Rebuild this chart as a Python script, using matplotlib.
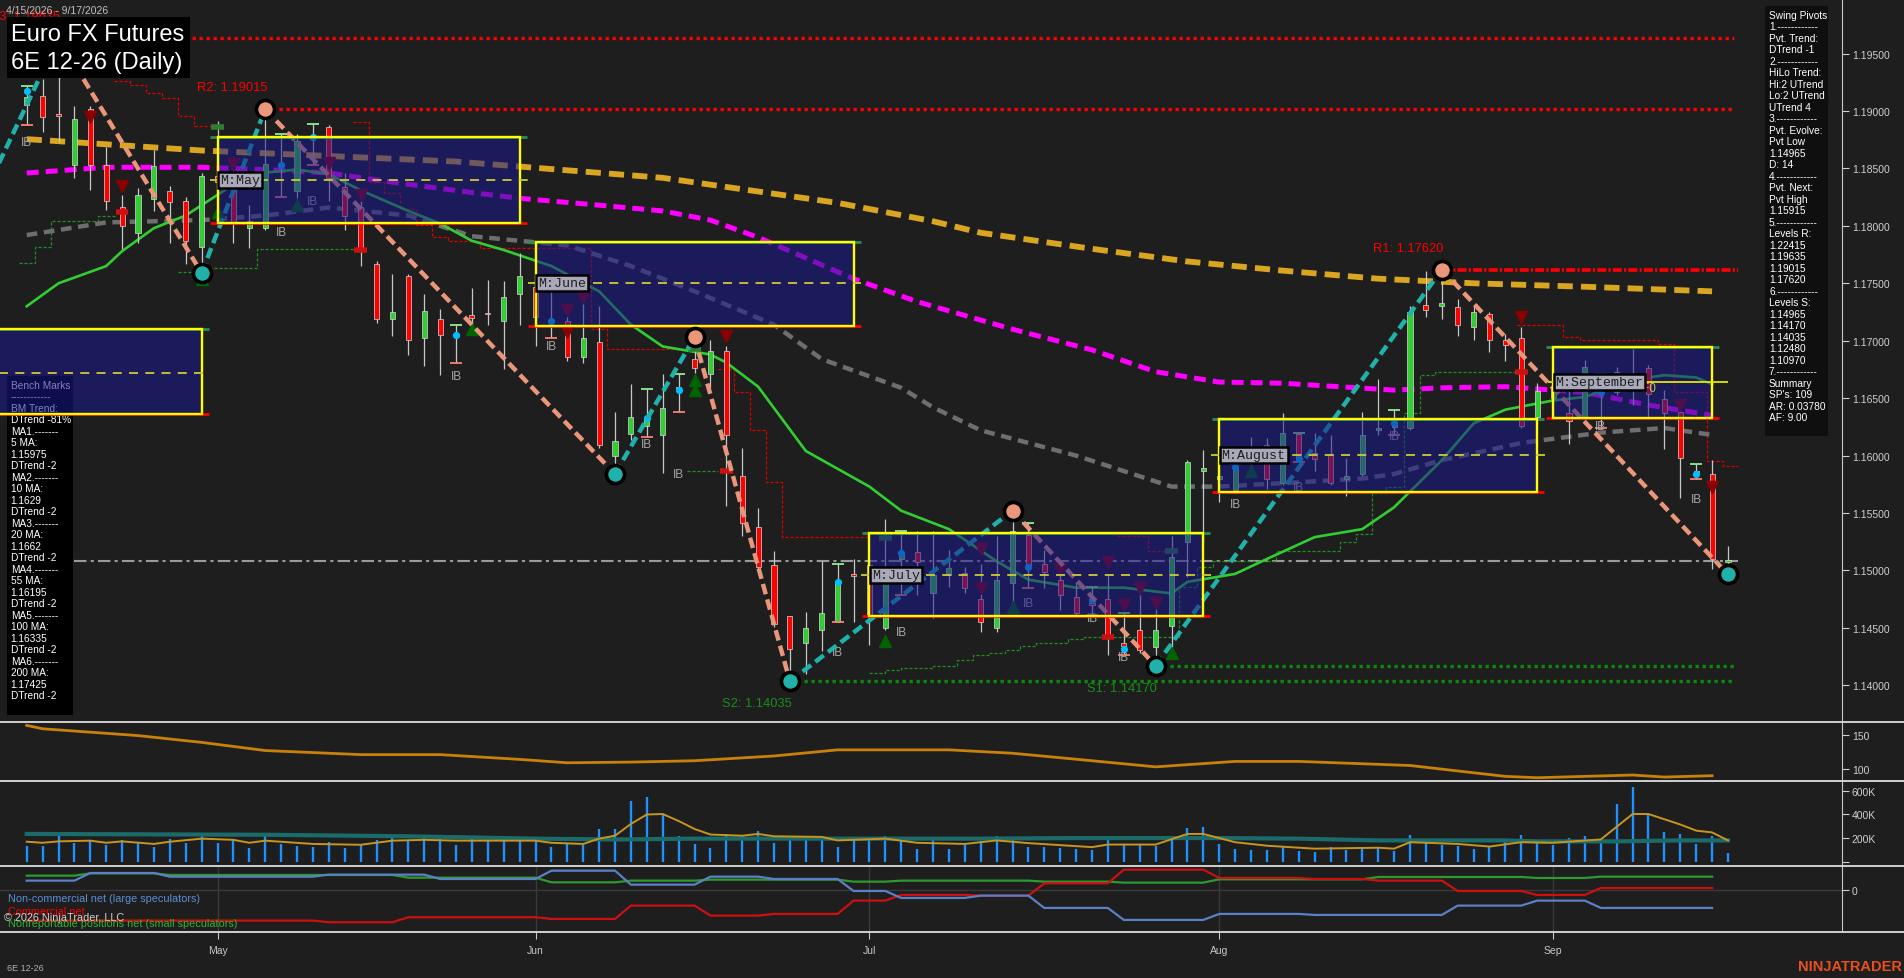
import numpy as np
import pandas as pd
import matplotlib
matplotlib.use("Agg")
import matplotlib.pyplot as plt
from matplotlib.patches import Rectangle
from matplotlib.lines import Line2D

plt.rcParams['font.family'] = ['Liberation Sans', 'DejaVu Sans']

BG = '#1e1e1e'
W, H = 1904, 979
nan = np.nan

# daily bars, exchange holidays have no bar
dates = pd.bdate_range("2026-04-15", "2026-09-17")
dates = dates.drop(pd.to_datetime(["2026-05-25", "2026-06-19", "2026-07-03", "2026-09-07"]))
x = np.arange(len(dates))

opens = [1.1905, 1.1913, 1.1897, 1.1853, 1.1902, 1.1853, 1.1816, 1.1794, 1.1823, 1.1830,
         1.1822, 1.1782, 1.1843, 1.1833, 1.1798, 1.1798, 1.1852, 1.1830, 1.1876, 1.1886,
         1.1834, 1.1816, 1.1767, 1.1719, 1.1756, 1.1702, 1.1719, 1.1705, 1.1722, 1.1724,
         1.1717, 1.1741, 1.1747, 1.1718, 1.1717, 1.1686, 1.1699, 1.1600, 1.1619, 1.1626,
         1.1618, 1.1660, 1.1684, 1.1671, 1.1691, 1.1582, 1.1538, 1.1505, 1.1460, 1.1437,
         1.1448, 1.1455, 1.1497, 1.1505, 1.1450, 1.1510, 1.1516, 1.1480, 1.1496, 1.1498,
         1.1475, 1.1450, 1.1489, 1.1531, 1.1506, 1.1492, 1.1477, 1.1472, 1.1475, 1.1437,
         1.1448, 1.1433, 1.1452, 1.1525, 1.1587, 1.1580, 1.1570, 1.1597, 1.1609, 1.1576,
         1.1619, 1.1602, 1.1601, 1.1580, 1.1584, 1.1622, 1.1625, 1.1624, 1.1731, 1.1730,
         1.1729, 1.1712, 1.1723, 1.1701, 1.1702, 1.1634, 1.1650, 1.1637, 1.1633, 1.1654,
         1.1655, 1.1665, 1.1676, 1.1649, 1.1638, 1.1587, 1.1584, 1.1507]
highs = [1.1922, 1.1928, 1.19635, 1.1904, 1.1904, 1.1869, 1.1827, 1.1833, 1.1866, 1.1835,
         1.1825, 1.1846, 1.1891, 1.1853, 1.1818, 1.19015, 1.1880, 1.1880, 1.1889, 1.1888,
         1.1846, 1.1831, 1.1769, 1.1758, 1.1758, 1.1741, 1.1728, 1.1714, 1.1746, 1.1753,
         1.1752, 1.1776, 1.1752, 1.1745, 1.1721, 1.1732, 1.1730, 1.1638, 1.1662, 1.1658,
         1.1671, 1.1671, 1.1703, 1.1701, 1.1695, 1.1607, 1.1554, 1.1517, 1.1460, 1.1464,
         1.1508, 1.1506, 1.1510, 1.1508, 1.1545, 1.1534, 1.1534, 1.1534, 1.1518, 1.1503,
         1.1506, 1.1530, 1.1552, 1.1541, 1.1518, 1.1505, 1.1490, 1.1486, 1.1497, 1.1463,
         1.1479, 1.1475, 1.1530, 1.1596, 1.1605, 1.1590, 1.1593, 1.1616, 1.1615, 1.1637,
         1.1620, 1.1620, 1.1618, 1.1598, 1.1638, 1.1667, 1.1640, 1.1730, 1.1761, 1.1762,
         1.1736, 1.1730, 1.1725, 1.1706, 1.1712, 1.1663, 1.1662, 1.1664, 1.1683, 1.1671,
         1.1677, 1.1693, 1.1679, 1.1657, 1.1644, 1.1593, 1.1596, 1.1521]
lows = [1.1888, 1.1882, 1.1873, 1.1842, 1.1831, 1.1814, 1.1780, 1.1785, 1.1813, 1.1785,
        1.1767, 1.1759, 1.1808, 1.1785, 1.1781, 1.1796, 1.1825, 1.1824, 1.1853, 1.1822,
        1.1796, 1.1765, 1.1715, 1.1704, 1.1688, 1.1678, 1.1670, 1.1681, 1.1710, 1.1714,
        1.1675, 1.1714, 1.1695, 1.1702, 1.1682, 1.1681, 1.1607, 1.1584, 1.1614, 1.1616,
        1.1585, 1.1638, 1.1672, 1.1659, 1.1556, 1.1530, 1.1501, 1.1451, 1.14035, 1.1410,
        1.1430, 1.1455, 1.1455, 1.1435, 1.1448, 1.1479, 1.1479, 1.1459, 1.1486, 1.1480,
        1.1446, 1.1446, 1.1472, 1.1485, 1.1485, 1.1466, 1.1461, 1.1461, 1.1426, 1.1426,
        1.1428, 1.1417, 1.1433, 1.1494, 1.1525, 1.1560, 1.1567, 1.1585, 1.1571, 1.1574,
        1.1594, 1.1587, 1.1574, 1.1565, 1.1582, 1.1618, 1.1618, 1.1622, 1.1721, 1.1719,
        1.1704, 1.1701, 1.1690, 1.1682, 1.1624, 1.1632, 1.1634, 1.1610, 1.1633, 1.1624,
        1.1653, 1.1644, 1.1633, 1.1606, 1.1563, 1.1580, 1.1501, 1.14965]
closes = [1.1912, 1.1895, 1.1896, 1.1893, 1.1853, 1.1822, 1.1800, 1.1827, 1.1852, 1.1821,
          1.1787, 1.1843, 1.1838, 1.1802, 1.1804, 1.1854, 1.1854, 1.1874, 1.1877, 1.1842,
          1.1809, 1.1779, 1.1719, 1.1725, 1.1701, 1.1726, 1.1705, 1.1706, 1.1720, 1.1723,
          1.1738, 1.1756, 1.1721, 1.1717, 1.1686, 1.1702, 1.1609, 1.1613, 1.1634, 1.1633,
          1.1641, 1.1657, 1.1676, 1.1691, 1.1618, 1.1541, 1.1503, 1.1453, 1.1432, 1.1450,
          1.1463, 1.1490, 1.1495, 1.1461, 1.1494, 1.1515, 1.1507, 1.1496, 1.1502, 1.1485,
          1.1455, 1.1492, 1.1534, 1.1505, 1.1499, 1.1479, 1.1463, 1.1470, 1.1442, 1.1434,
          1.1431, 1.1448, 1.1512, 1.1594, 1.1589, 1.1582, 1.1590, 1.1600, 1.1580, 1.1620,
          1.1597, 1.1597, 1.1576, 1.1582, 1.1618, 1.1624, 1.1628, 1.1725, 1.1727, 1.1733,
          1.1714, 1.1725, 1.1701, 1.1696, 1.1626, 1.1656, 1.1658, 1.1630, 1.1677, 1.1656,
          1.1673, 1.1668, 1.1654, 1.1637, 1.1598, 1.1585, 1.1510, 1.1509]

# moving averages (bar index, value)
ma200_bars = [0, 11, 27, 40, 51, 57, 60, 67, 73, 79, 85, 91, 98, 106]
ma200_vals = [1.18755, 1.18656, 1.1856, 1.18418, 1.1820, 1.1804, 1.1794, 1.1780, 1.1769, 1.1761,
              1.1754, 1.1750, 1.1747, 1.1743]
ma100_bars = [0, 5, 11, 15, 19, 23, 28, 31, 36, 40, 43, 46, 49, 52, 56, 62, 67, 71, 75, 79,
              86, 89, 93, 98, 102, 106]
ma100_vals = [1.1846, 1.1851, 1.1851, 1.1849, 1.1846, 1.1838, 1.1829, 1.1824, 1.1818, 1.1813,
              1.1805, 1.1790, 1.1772, 1.1754, 1.1734, 1.1710, 1.1692, 1.1673, 1.1664, 1.1663,
              1.1657, 1.1659, 1.1660, 1.1655, 1.1644, 1.1635]
ma55_bars = [0, 5, 11, 15, 19, 24, 28, 34, 38, 42, 47, 50, 55, 57, 60, 66, 70, 72, 75, 79,
             84, 86, 89, 94, 99, 103, 106]
ma55_vals = [1.1792, 1.1803, 1.1805, 1.1809, 1.1816, 1.1809, 1.1791, 1.1783, 1.1765, 1.1743,
             1.1714, 1.1684, 1.1659, 1.1642, 1.1622, 1.1600, 1.1582, 1.1573, 1.1573, 1.1576,
             1.1580, 1.1584, 1.1596, 1.1611, 1.1620, 1.1624, 1.1618]
ma20_bars = [0, 2, 5, 6, 8, 10, 12, 14, 17, 19, 21, 24, 26, 28, 30, 33, 36, 38, 40, 43,
             44, 46, 49, 53, 55, 58, 61, 63, 66, 69, 72, 73, 76, 78, 81, 84, 86, 89, 91, 93,
             96, 98, 101, 103, 105, 106]
ma20_vals = [1.1730, 1.1750, 1.1765, 1.1778, 1.1798, 1.1809, 1.1827, 1.1845, 1.1849, 1.1845,
             1.1831, 1.1813, 1.1802, 1.1787, 1.1779, 1.1765, 1.1743, 1.1714, 1.1695, 1.1688,
             1.1681, 1.1660, 1.1604, 1.1573, 1.1552, 1.1536, 1.1508, 1.1492, 1.1485, 1.1485,
             1.1480, 1.1490, 1.1497, 1.1510, 1.1529, 1.1536, 1.1555, 1.1596, 1.1628, 1.1640,
             1.1648, 1.1651, 1.1666, 1.1670, 1.1668, 1.1662]

# swing pivots
swing_bars = [-6, 2, 11, 15, 37, 42, 48, 62, 71, 89, 107]
swing_prices = [1.1731, 1.19635, 1.1759, 1.19015, 1.1584, 1.1703, 1.14035, 1.1552, 1.1417, 1.1762, 1.14965]

level_names = ['R3', 'R2', 'R1', 'S2', 'S1']
level_prices = [1.19635, 1.19015, 1.17620, 1.14035, 1.14170]
level_from = [2, 15, 89, 48, 71]

# monthly boxes
box_start = [-3, 12, 32, 53, 75, 96]
box_end = [11, 31, 52, 74, 95, 106]
box_top = [1.1710, 1.18773, 1.1786, 1.15322, 1.16318, 1.16945]
box_bottom = [1.1636, 1.18026, 1.1713, 1.14600, 1.15685, 1.16329]
box_mid = [1.1672, 1.18401, 1.1750, 1.14963, 1.16007, 1.16641]
box_label = ['', 'M:May', 'M:June', 'M:July', 'M:August', 'M:September']

# trailing stops
red_step_x = [5.5, 6.5, 7.5, 8.5, 9.5, 10.5, 11.6, nan,
              20.5, 21.5, 22.5, 23.5, 24.5, 25.5, 26.5, 28.5, 35.5, 36.5, 42, nan,
              43.5, 44.5, 45.5, 46.5, 47.5, 53, nan,
              67.5, 68.5, 70.5, 71.7, nan,
              93.7, 96.6, 97.7, 102.6, 103.6, 105.7, 106.7, 107.6]
red_step_y = [1.1926, 1.1923, 1.1916, 1.1911, 1.1896, 1.1887, 1.1887, nan,
              1.1890, 1.1838, 1.1829, 1.1815, 1.1801, 1.1790, 1.1787, 1.1781, 1.1710, 1.1693, 1.1693, nan,
              1.1675, 1.1655, 1.1622, 1.1577, 1.1529, 1.1529, nan,
              1.1533, 1.1530, 1.1517, 1.1517, nan,
              1.1714, 1.1703, 1.1701, 1.1697, 1.1655, 1.1595, 1.1591, 1.1591]
green_step_x = [-0.5, 0.5, 1.5, 4.5, 5.7, nan, 9.5, 11.5, 14.5, 20.6, nan, 41.5, 43.5, nan,
                53, 54, 55, 57, 58.5, 59.5, 60.5, 61.5, 62.5, 63.5, 65.5, 66.5, 72.5, 73.6,
                74.6, 78.6, 82.6, 83.6, 84.6, 85.5, 86.6, 87.6, 88.6, 93.7]
green_step_y = [1.1768, 1.1782, 1.1804, 1.1809, 1.1809, nan, 1.1760, 1.1763, 1.1780, 1.1780, nan,
                1.1587, 1.1587, nan,
                1.1411, 1.1413, 1.1415, 1.1417, 1.1422, 1.1426, 1.1428, 1.1431, 1.1434, 1.1437,
                1.1440, 1.1442, 1.1486, 1.1503, 1.1508, 1.1517, 1.1525, 1.1532, 1.1567, 1.1573,
                1.1637, 1.1670, 1.1673, 1.1673]

# inside-bar marks
ib_bars = [0, 16, 18, 27, 33, 39, 41, 51, 55, 63, 67, 69, 76, 80, 86, 99, 105]
ib_dots = [1.1917, 1.1853, 1.1877, 1.1705, 1.1717, 1.1633, 1.1657, 1.1490, 1.1515, 1.1503,
           1.1474, 1.1432, 1.1590, 1.1597, 1.1628, 1.1655, 1.1584]
ib_text_prices = [1.1873, 1.1795, 1.1822, 1.1669, 1.1695, 1.1610, 1.1584, 1.1429, 1.1446, 1.1472,
                  1.1459, 1.1425, 1.1558, 1.1573, 1.1617, 1.1626, 1.1562]

down_tri_bars = [4, 6, 13, 19, 21, 34, 34, 35, 44, 60, 60, 65, 68, 69, 70, 71, 94, 104, 106]
down_tri_prices = [1.1895, 1.1835, 1.1854, 1.1855, 1.1827, 1.1727, 1.1708, 1.1738, 1.1704, 1.1519,
                   1.1485, 1.1501, 1.1507, 1.1470, 1.1485, 1.1472, 1.1721, 1.1644, 1.1573]
up_tri_bars = [11, 12, 17, 28, 42, 42, 54, 62, 72, 77]
up_tri_prices = [1.1754, 1.1812, 1.1818, 1.1710, 1.1666, 1.1657, 1.1439, 1.1468, 1.1428, 1.1587]
red_mark_bars = [6, 21, 44, 68, 94]
red_mark_prices = [1.1812, 1.1779, 1.1587, 1.1442, 1.1673]
green_mark_bars = [12, 42, 54, 72]
green_mark_prices = [1.1886, 1.1693, 1.1528, 1.1517]

pivot_line = 1.1508

# lower panels
osc_bars = [0, 1, 7, 11, 15, 21, 26, 31, 34, 38, 42, 47, 51, 58, 62, 67, 71, 76, 80, 87, 93, 95, 101, 103, 106]
osc_vals = [164, 159, 149, 139, 127, 121, 121, 114, 109, 110, 112, 119, 128, 128, 123, 112, 103, 111, 111,
            105, 89, 87, 91, 88, 90]

volume = [135, 135, 230, 160, 185, 140, 185, 160, 128, 195,
          160, 245, 160, 195, 118, 228, 150, 135, 128, 165,
          118, 145, 185, 215, 180, 200, 203, 140, 195, 175,
          175, 175, 188, 128, 150, 145, 280, 280, 515, 550,
          405, 215, 150, 118, 235, 215, 263, 160, 200, 188,
          200, 128, 195, 180, 215, 180, 110, 185, 110, 145,
          175, 215, 200, 128, 123, 118, 110, 102, 185, 140,
          140, 135, 220, 285, 295, 150, 110, 102, 102, 135,
          90, 78, 128, 102, 118, 118, 90, 228, 185, 145,
          135, 110, 123, 175, 228, 165, 140, 200, 215, 195,
          490, 631, 404, 248, 235, 150, 215, 70]
vol_ma_bars = [0, 1, 2, 4, 5, 6, 8, 9, 11, 13, 14, 15, 18, 21, 23, 25, 27, 29, 32, 33,
               35, 36, 37, 38, 39, 40, 41, 42, 43, 45, 46, 47, 50, 51, 54, 56, 59, 61, 63, 67,
               68, 71, 73, 74, 76, 78, 81, 85, 86, 87, 90, 92, 94, 96, 99, 101, 102, 104, 105, 106, 107]
vol_ma_vals = [169, 160, 172, 178, 160, 172, 150, 169, 195, 185, 160, 178, 150, 143, 178, 185, 178, 178, 178, 160,
               150, 195, 220, 320, 400, 404, 345, 277, 230, 220, 235, 215, 210, 180, 195, 160, 150, 180, 157, 123,
               145, 145, 235, 235, 165, 135, 110, 118, 110, 165, 150, 128, 165, 160, 188, 404, 404, 315, 263, 248, 180]
vol_slow_bars = [0, 15, 24, 32, 37, 42, 60, 66, 75, 80, 85, 93, 95, 100, 104, 107]
vol_slow_vals = [235, 228, 215, 195, 188, 195, 195, 200, 200, 195, 180, 180, 172, 172, 180, 180]

# COT net positions (thousands), weekly
week_start = [0, 4, 9, 14, 19, 24, 26, 33, 38, 43, 47, 52, 55, 60, 64, 69, 75, 81, 85, 90, 95, 99]
week_end = [3, 8, 13, 18, 23, 25, 32, 37, 42, 46, 51, 54, 59, 63, 68, 74, 80, 84, 89, 94, 98, 106]
cot_noncomm = [28, 51, 40, 40, 46, 46, 33, 58, 16, 40, 33, -3, -24, -17, -54, -90, -72, -75, -75, -47, -32, -54]
cot_comm = [-92, -92, -92, -92, -97, -82, -82, -87, -47, -77, -72, -32, -15, -17, 20, 61, 36, 33, 28, -3, -15, 6]
cot_small = [43, 50, 45, 45, 45, 37, 37, 23, 28, 31, 31, 25, 28, 28, 25, 22, 32, 32, 39, 39, 36, 40]

bench_lines = ["Bench Marks", "------------", "BM Trend:", "DTrend -81%", "MA1.-------", "5 MA:", "1.15975",
               "DTrend -2", "MA2.-------", "10 MA:", "1.1629", "DTrend -2", "MA3.-------", "20 MA:", "1.1662",
               "DTrend -2", "MA4.-------", "55 MA:", "1.16195", "DTrend -2", "MA5.-------", "100 MA:",
               "1.16335", "DTrend -2", "MA6.-------", "200 MA:", "1.17425", "DTrend -2"]
pivot_lines = ["Swing Pivots", "1.------------", "Pvt. Trend:", "DTrend -1", "2.------------", "HiLo Trend:",
               "Hi:2 UTrend", "Lo:2 UTrend", "UTrend 4", "3.------------", "Pvt. Evolve:", "Pvt Low",
               "1.14965", "D: 14", "4.------------", "Pvt. Next:", "Pvt High", "1.15915", "5.------------",
               "Levels R:", "1.22415", "1.19635", "1.19015", "1.17620", "6.------------", "Levels S:",
               "1.14965", "1.14170", "1.14035", "1.12480", "1.10970", "7.------------", "Summary",
               "SP's: 109", "AR: 0.03780", "AF: 9.00"]


def fx(px):
    return px / W


def fy(py):
    return 1 - py / H


fig = plt.figure(figsize=(W / 100, H / 100), dpi=100, facecolor=BG)
AX_RIGHT = 1842


def panel(top, bottom):
    a = fig.add_axes([0, fy(bottom), fx(AX_RIGHT), (bottom - top) / H])
    a.set_facecolor(BG)
    a.set_xlim(-1.68, 114.17)
    for s in ('top', 'left', 'bottom'):
        a.spines[s].set_visible(False)
    a.spines['right'].set_color('#c8c8c8')
    a.yaxis.tick_right()
    a.tick_params(axis='y', colors='#cfcfcf', labelsize=7.5, length=5, pad=2)
    a.tick_params(axis='x', bottom=False, labelbottom=False)
    return a


ax = panel(0, 722.5)
ax2 = panel(722.5, 782)
axv = panel(782, 867)
axc = panel(867, 932.5)

# ---- price panel
ax.set_ylim(1.13685, 1.19975)
ax.set_yticks(np.arange(1.14, 1.1951, 0.005))
ax.set_yticklabels([f"{v:.5f}" for v in np.arange(1.14, 1.1951, 0.005)])

for name, p, b0 in zip(level_names, level_prices, level_from):
    col = '#ff0000' if name[0] == 'R' else '#0a8a0a'
    if name == 'R1':
        ax.hlines(p, b0, 107.6, color=col, lw=2.6, linestyles=(0, (2.5, 0.6, 0.6, 0.6)), zorder=2)
    else:
        ax.hlines(p, b0, 107.4, color=col, lw=2.4, linestyles=(0, (1, 1.1)), zorder=2)
    off = 0.0019 if name[0] == 'R' else -0.0019
    ax.text(b0 - 4.3, p + off, f"{name}: {p:.5f}", color=col if name[0] == 'R' else '#1c8c1c',
            fontsize=9.3, va='center', ha='left', zorder=7)

ax.hlines(pivot_line, 3, 107.6, color='#9a9a9a', lw=1.5, linestyles=(0, (6, 2, 1.5, 2)), zorder=2)

ax.plot(red_step_x, red_step_y, drawstyle='steps-post', color='#e00000', lw=0.9, dashes=(2.5, 1.5), zorder=2.5)
ax.plot(green_step_x, green_step_y, drawstyle='steps-post', color='#1f8f1f', lw=0.9, dashes=(2.5, 1.5), zorder=2.5)

ax.plot(ma200_bars, ma200_vals, color='#daa520', lw=4.2, dashes=(2.6, 1.4), zorder=3)
ax.plot(ma100_bars, ma100_vals, color='#ff00ff', lw=3.6, dashes=(2.4, 1.4), zorder=3)
ax.plot(ma55_bars, ma55_vals, color='#6e6e6e', lw=3.2, dashes=(2.4, 1.5), zorder=3)
ax.plot(ma20_bars, ma20_vals, color='#32cd32', lw=1.9, zorder=3.1)

# candles
o, h, l, c = map(np.array, (opens, highs, lows, closes))
up = c >= o
ax.vlines(x, l, h, color='#c8c8c8', lw=0.9, zorder=4)
body = np.maximum(np.abs(c - o), 0.00008)
ax.bar(x, body, bottom=np.minimum(o, c), width=0.32, color=np.where(up, '#32cd32', '#ff0000'),
       edgecolor='#d8d8d8', linewidth=0.5, zorder=4.2)

# inside bar ticks / dots
ib_idx = np.array(ib_bars)
ax.hlines(h[ib_idx], ib_idx - 0.38, ib_idx + 0.38, color='#90ee90', lw=1.3, zorder=4.3)
ax.hlines(l[ib_idx], ib_idx - 0.38, ib_idx + 0.38, color='#fa8072', lw=1.3, zorder=4.3)
ax.plot(ib_bars, ib_dots, 'o', color='#00bfff', ms=4.2, zorder=4.4)
for b, p in zip(ib_bars, ib_text_prices):
    ax.text(b, p, "IB", color='#a8a8a8', fontsize=8.5, ha='center', va='center', zorder=4.4)
ax.text(102, 1.1659, "F0", color='#c8c832', fontsize=8.5, ha='center', va='center', zorder=6.5)

ax.plot(down_tri_bars, down_tri_prices, 'v', color='#8b0000', ms=8, zorder=4.5)
ax.plot(up_tri_bars, up_tri_prices, '^', color='#006400', ms=8, zorder=4.5)
ax.hlines(red_mark_prices, np.array(red_mark_bars) - 0.4, np.array(red_mark_bars) + 0.4, color='#cc1111', lw=4, zorder=4.5)
ax.hlines(green_mark_prices, np.array(green_mark_bars) - 0.4, np.array(green_mark_bars) + 0.4, color='#2e7d32', lw=4, zorder=4.5)

# swing zigzag
for i in range(len(swing_bars) - 1):
    col = '#20b2aa' if swing_prices[i + 1] > swing_prices[i] else '#e9967a'
    ax.plot(swing_bars[i:i + 2], swing_prices[i:i + 2], color=col, lw=3.2, dashes=(2.4, 1.2), zorder=4.6)

# bench marks panel (under the April box)
ax.add_patch(Rectangle((fx(7), fy(716)), fx(66), (716 - 377) / H, transform=fig.transFigure,
                       facecolor='black', edgecolor='none', zorder=4.8, clip_on=False))
for k, s in enumerate(bench_lines):
    ax.text(fx(10.7), fy(385.7 + 11.5 * k), s, transform=fig.transFigure, color='white',
            fontsize=7.3, va='center', ha='left', zorder=4.9)

# monthly boxes
for s, e, t, b, m, lab in zip(box_start, box_end, box_top, box_bottom, box_mid, box_label):
    ax.add_patch(Rectangle((s, b), e - s, t - b, facecolor='#1a1a8e', alpha=0.55, edgecolor='none', zorder=5))
    ax.hlines(t, s - 0.45, e + 0.45, color='#2e8b57', lw=2, zorder=5.8)
    ax.hlines(b, s - 0.45, e + 0.45, color='#ff0000', lw=2, zorder=5.8)
    ax.add_patch(Rectangle((s, b), e - s, t - b, facecolor='none', edgecolor='#ffff00', lw=1.7, zorder=6))
    if lab == 'M:September':
        ax.hlines(m, s - 0.3, 107, color='#e6e600', lw=1.3, zorder=6)
    else:
        ax.hlines(m, s - 0.5, e + 0.5, color='#cccc33', lw=1.3, linestyles=(0, (5, 4)), zorder=6)
    if lab:
        ax.text(s + 0.15, m, lab, fontfamily='Liberation Mono', fontsize=9.5, color='#1e1e1e',
                va='center', ha='left', zorder=7,
                bbox=dict(boxstyle='square,pad=0.15', fc='#a9a9b9', ec='black', lw=1.8))

# pivot circles
for i in range(1, len(swing_bars)):
    is_high = swing_prices[i] > swing_prices[i - 1]
    ax.plot(swing_bars[i], swing_prices[i], 'o', ms=13, mfc='#e9967a' if is_high else '#20b2aa',
            mec='black', mew=2.6, zorder=7)

# ---- oscillator panel
ax2.set_ylim(82.2, 169.7)
ax2.set_yticks([100, 150])
ax2.plot(osc_bars, osc_vals, color='#c8820a', lw=2, zorder=3)

# ---- volume panel
axv.set_ylim(-37, 684)
axv.set_yticks([0, 200, 400, 600])
axv.set_yticklabels(['', '200K', '400K', '600K'])
axv.vlines(x, 0, volume, color='#1e90ff', lw=1.7, zorder=2)
axv.plot(vol_slow_bars, vol_slow_vals, color='#1b6b6b', lw=3, zorder=3)
axv.plot(vol_ma_bars, vol_ma_vals, color='#c8961e', lw=1.4, zorder=4)

# ---- COT panel
axc.set_ylim(-124.8, 72)
axc.set_yticks([0])
axc.axhline(0, color='#3a3a3a', lw=1, zorder=1)
month_first = [int(np.argmax(dates.month == m)) for m in (5, 6, 7, 8, 9)]
axc.vlines(month_first, -124.8, 72, color='#3a3a3a', lw=1, zorder=1)
for vals, col in ((cot_small, '#2e9a2e'), (cot_comm, '#cc1010'), (cot_noncomm, '#5a80c8')):
    xs, ys = [], []
    for s, e, v in zip(week_start, week_end, vals):
        xs += [s, e]
        ys += [v, v]
    axc.plot(xs, ys, color=col, lw=1.6, zorder=3)
axc.tick_params(axis='x', bottom=True, labelbottom=True, colors='#c8c8c8', length=5, labelsize=7.5, pad=5)
axc.set_xticks(month_first)
axc.set_xticklabels([dates[i].strftime('%b') for i in month_first])

# separators across the full width
for yy in (722.5, 782, 867, 932.5):
    fig.add_artist(Line2D([0, 1], [fy(yy), fy(yy)], color='#d0d0d0', lw=1.4, zorder=5))

# title and info boxes
fig.add_artist(Rectangle((fx(7), fy(79)), fx(183), 61 / H, transform=fig.transFigure,
                         facecolor='black', edgecolor='none', zorder=10))
fig.text(fx(10.7), fy(35), "Euro FX Futures", fontsize=17, color='white', va='center', zorder=11)
fig.text(fx(10.7), fy(63), "6E 12-26 (Daily)", fontsize=17, color='white', va='center', zorder=11)
fig.text(fx(6), fy(11), "4/15/2026 - 9/17/2026", fontsize=7.5, color='#c0c0c0', va='center', zorder=12)

fig.add_artist(Rectangle((fx(1765), fy(437)), fx(63), 430 / H, transform=fig.transFigure,
                         facecolor='#0f0f0f', edgecolor='none', zorder=10))
for k, s in enumerate(pivot_lines):
    fig.text(fx(1769), fy(16 + 11.49 * k), s, fontsize=7.3, color='white', va='center', ha='left', zorder=11)

fig.text(fx(8), fy(899.3), "Non-commercial net (large speculators)", fontsize=7.8, color='#5b8fd8', va='center', zorder=11)
fig.text(fx(8), fy(911.7), "Commercial net", fontsize=7.8, color='#ff0000', va='center', zorder=11)
fig.text(fx(4.5), fy(918.3), "\u00a9 2026 NinjaTrader, LLC", fontsize=7.8, color='#d0d0d0', va='center', zorder=11)
fig.text(fx(8), fy(924.3), "Nonreportable positions net (small speculators)", fontsize=7.8, color='#32b432', va='center', zorder=11)

fig.text(fx(6.7), fy(969), "6E 12-26", fontsize=6.5, color='#b0b0b0', va='center', zorder=11)
fig.text(fx(1902), fy(967), "NINJATRADER", fontsize=10.5, fontweight='bold', color='#e8501e',
         va='center', ha='right', zorder=11)

fig.savefig("out.png", dpi=100, facecolor=BG)
